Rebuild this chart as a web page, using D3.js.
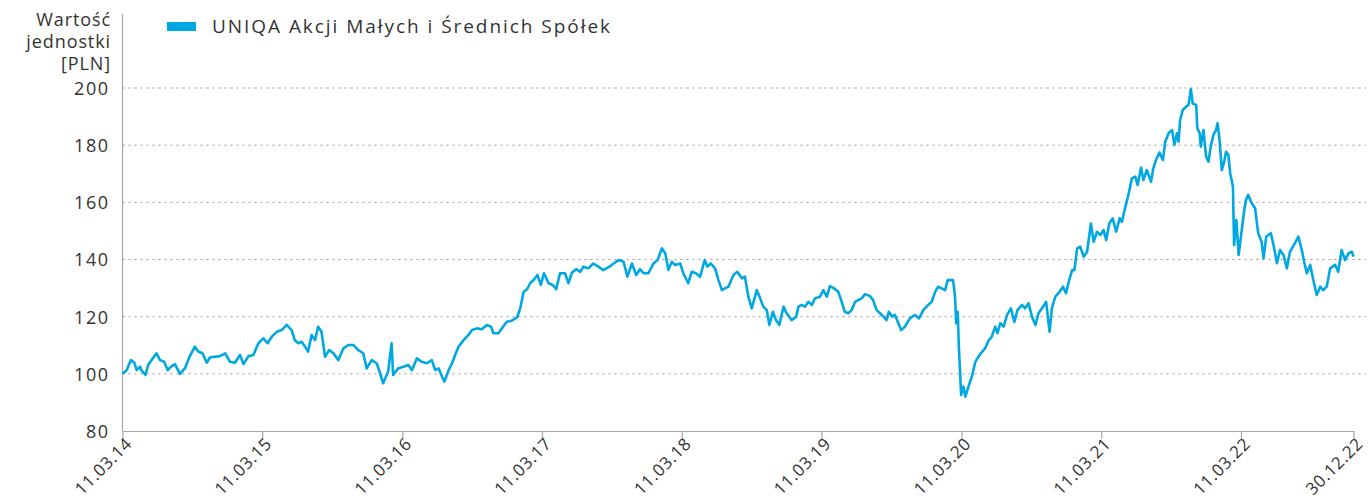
<!DOCTYPE html>
<html>
<head>
<meta charset="utf-8">
<script src="https://cdn.jsdelivr.net/npm/d3@7"></script>
<style>
  body { margin: 0; background: #fff; }
  svg { display: block; font-family: "Open Sans", sans-serif; }
  .axis text { fill: #333; }
</style>
</head>
<body>
<svg id="chart" width="1368" height="501"></svg>
<script>
const seriesName = "UNIQA Akcji Małych i Średnich Spółek";
const yTitle = ["Wartość", "jednostki", "[PLN]"];
const yTicks = [80, 100, 120, 140, 160, 180, 200];
const xTickDates = ["2014-03-11", "2015-03-11", "2016-03-11", "2017-03-11", "2018-03-11",
  "2019-03-11", "2020-03-11", "2021-03-11", "2022-03-11", "2022-12-30"];

// unit value
const dates = [
  "2014-03-11","2014-03-22","2014-04-02","2014-04-11","2014-04-17","2014-04-26","2014-04-30","2014-05-10","2014-05-17","2014-05-26",
  "2014-06-08","2014-06-17","2014-06-28","2014-07-07","2014-07-16","2014-07-26","2014-08-08","2014-08-21","2014-09-03","2014-09-16",
  "2014-09-25","2014-10-06","2014-10-17","2014-10-26","2014-11-08","2014-11-21","2014-12-04","2014-12-17","2014-12-30","2015-01-12",
  "2015-01-21","2015-02-03","2015-02-16","2015-03-01","2015-03-14","2015-03-25","2015-04-05","2015-04-18","2015-05-01","2015-05-14",
  "2015-05-27","2015-06-04","2015-06-13","2015-06-22","2015-07-01","2015-07-09","2015-07-18","2015-07-27","2015-08-04","2015-08-13",
  "2015-08-22","2015-09-02","2015-09-13","2015-09-26","2015-10-09","2015-10-22","2015-11-04","2015-11-17","2015-11-30","2015-12-09",
  "2015-12-22","2016-01-04","2016-01-13","2016-01-21","2016-02-03","2016-02-12","2016-02-16","2016-02-29","2016-03-14","2016-03-27",
  "2016-04-05","2016-04-18","2016-05-01","2016-05-14","2016-05-27","2016-06-05","2016-06-14","2016-06-23","2016-06-29","2016-07-10",
  "2016-07-19","2016-07-27","2016-08-05","2016-08-18","2016-08-31","2016-09-09","2016-09-22","2016-10-05","2016-10-18","2016-10-29",
  "2016-11-04","2016-11-17","2016-11-26","2016-12-09","2016-12-22","2017-01-05","2017-01-13","2017-01-22","2017-01-31","2017-02-08",
  "2017-02-17","2017-02-27","2017-03-08","2017-03-16","2017-03-28","2017-04-08","2017-04-17","2017-04-27","2017-05-10","2017-05-19",
  "2017-05-28","2017-06-08","2017-06-19","2017-06-27","2017-07-10","2017-07-23","2017-08-05","2017-08-18","2017-09-01","2017-09-14",
  "2017-09-27","2017-10-10","2017-10-20","2017-11-01","2017-11-12","2017-11-22","2017-12-01","2017-12-14","2017-12-27","2018-01-07",
  "2018-01-18","2018-01-27","2018-02-04","2018-02-13","2018-02-22","2018-03-07","2018-03-15","2018-03-28","2018-04-06","2018-04-17",
  "2018-04-28","2018-05-10","2018-05-17","2018-05-26","2018-06-06","2018-06-15","2018-06-24","2018-07-02","2018-07-11","2018-07-24",
  "2018-08-03","2018-08-15","2018-08-23","2018-09-01","2018-09-10","2018-09-23","2018-10-02","2018-10-10","2018-10-19","2018-10-26",
  "2018-11-04","2018-11-12","2018-11-21","2018-12-02","2018-12-10","2018-12-23","2019-01-04","2019-01-10","2019-01-19","2019-01-27",
  "2019-02-05","2019-02-14","2019-02-22","2019-03-07","2019-03-16","2019-03-25","2019-04-02","2019-04-13","2019-04-24","2019-05-03",
  "2019-05-11","2019-05-20","2019-05-29","2019-06-07","2019-06-15","2019-06-24","2019-07-03","2019-07-16","2019-07-24","2019-08-02",
  "2019-08-11","2019-08-20","2019-08-28","2019-09-03","2019-09-12","2019-09-19","2019-09-28","2019-10-05","2019-10-15","2019-10-28",
  "2019-11-10","2019-11-21","2019-12-02","2019-12-15","2019-12-24","2020-01-02","2020-01-10","2020-01-19","2020-01-28","2020-02-04",
  "2020-02-18","2020-02-23","2020-02-26","2020-03-01","2020-03-04","2020-03-10","2020-03-16","2020-03-21","2020-03-29","2020-04-07",
  "2020-04-16","2020-04-29","2020-05-12","2020-05-20","2020-05-29","2020-06-07","2020-06-13","2020-06-20","2020-06-29","2020-07-08",
  "2020-07-18","2020-07-27","2020-08-04","2020-08-16","2020-08-24","2020-09-02","2020-09-11","2020-09-20","2020-09-28","2020-10-10",
  "2020-10-18","2020-10-27","2020-11-02","2020-11-11","2020-11-22","2020-12-01","2020-12-09","2020-12-16","2020-12-25","2020-12-31",
  "2021-01-07","2021-01-15","2021-01-24","2021-02-02","2021-02-12","2021-02-19","2021-02-28","2021-03-09","2021-03-17","2021-03-24",
  "2021-04-01","2021-04-10","2021-04-19","2021-04-28","2021-05-04","2021-05-12","2021-05-21","2021-05-30","2021-06-08","2021-06-14",
  "2021-06-23","2021-06-29","2021-07-08","2021-07-19","2021-07-25","2021-08-01","2021-08-10","2021-08-19","2021-08-25","2021-09-03",
  "2021-09-12","2021-09-18","2021-09-25","2021-09-29","2021-10-03","2021-10-10","2021-10-19","2021-10-25","2021-10-31","2021-11-05",
  "2021-11-14","2021-11-17","2021-11-23","2021-11-26","2021-12-03","2021-12-10","2021-12-16","2021-12-22","2021-12-29","2022-01-05",
  "2022-01-09","2022-01-14","2022-01-20","2022-01-26","2022-01-31","2022-02-06","2022-02-11","2022-02-18","2022-02-21","2022-02-27",
  "2022-03-05","2022-03-13","2022-03-19","2022-03-24","2022-03-30","2022-04-08","2022-04-17","2022-04-25","2022-05-04","2022-05-09",
  "2022-05-16","2022-05-28","2022-06-04","2022-06-13","2022-06-21","2022-06-30","2022-07-09","2022-07-17","2022-07-30","2022-08-08",
  "2022-08-17","2022-08-23","2022-08-30","2022-09-08","2022-09-16","2022-09-25","2022-10-04","2022-10-12","2022-10-21","2022-10-30",
  "2022-11-12","2022-11-20","2022-11-29","2022-12-08","2022-12-17","2022-12-26","2022-12-30"
];
const values = [
  100,101.3,104.8,103.9,101.3,102.5,101.1,99.6,103.1,104.8,
  107.2,104.8,104.2,101.3,102.5,103.4,100,101.9,106.2,109.5,
  107.8,107.2,103.9,105.8,106,106.2,107.2,104.2,103.9,106.6,
  103.4,106.2,106.6,110.7,112.4,110.7,113,114.7,115.3,117.1,
  115.3,111.8,110.7,111.2,109.5,107.8,113.6,111.8,116.5,114.7,
  106,108.3,107.2,104.8,108.9,110.1,110.1,108.3,107.2,101.9,
  104.8,103.7,100.2,96.7,100.8,110.7,99.6,101.9,102.5,103.1,
  101.3,105.4,104.2,103.7,104.8,101.3,101.9,99,97.3,101.3,
  103.7,106.6,109.5,111.8,113.6,115.3,115.9,115.6,117.1,116.5,
  114.2,114.2,115.9,118.2,118.6,119.8,122.9,128.7,129.6,131.7,
  132.8,134.6,131.1,135.2,131.7,131.1,129.6,135.2,135.2,131.7,
  135.4,136.6,135.7,137.5,136.9,138.6,137.5,136.3,137.3,138.6,
  139.8,139.2,134,138.6,134.6,136.6,135.2,135.2,138.6,139.8,
  143.9,142.2,136.3,139.2,138.1,138.6,135.2,131.7,135.7,135.2,
  134,139.8,137.5,138.6,136.9,132.8,129.3,129.9,130.5,134.6,
  135.7,133.4,134,127,122.9,129.3,126.4,123.5,122.3,117.1,
  121.7,118.8,117.1,123.5,121.2,118.8,120,123.5,124.1,123.5,
  125.2,124.1,126.4,127,129.3,127,130.7,129.9,128.7,125.2,
  121.7,121.2,122.3,125.2,125.8,126.4,127.9,127.2,125.8,122.3,
  121.2,120,118.8,121.7,120,120.6,117.7,115.3,116.5,119.4,
  120.6,119.4,122.3,124.1,125.2,128.7,130.5,129.9,129.3,132.8,
  132.8,127,117.7,121.7,109.5,92.6,95.5,92,95.5,99,
  104.2,107,109,111.5,113,116.5,114.2,117.7,116.5,120.6,
  122.9,118.2,122.3,124.1,122.9,124.7,120,117.1,121.2,123.5,
  125.2,114.7,122.9,127,128.7,130.5,128.2,132.2,136.3,136.3,
  143.9,144.5,141,142.7,152.6,146.2,149.7,148.6,150.3,146.8,
  152.6,154.4,149.7,154.4,153.2,157.9,162.6,168.4,169,166.1,
  172.2,167.8,171.3,167.2,171.9,174.8,177.4,174.8,181.2,184.2,
  185.3,180.1,184.2,181.2,188.8,192.3,193.5,194.1,199.6,194.6,
  194.1,185.9,184.2,179.5,185.3,176,174.2,179.5,183.6,185.3,
  187.7,181.8,171.3,174.2,177.7,176.6,170.1,165.5,145.1,153.8,
  141.6,150.3,156.7,160.8,162.6,159.7,157.9,149.2,146.2,140.4,
  148,149.2,145.1,138.7,143.3,141.6,136.9,142.7,145.7,148,
  143.3,139.2,135.2,138.1,132.8,127.6,130.5,129.3,130.5,136.9,
  138.1,135.7,143.3,139.8,142.2,142.7,141
];

const parse = d3.timeParse("%Y-%m-%d");
const data = dates.map((d, i) => ({ date: parse(d), value: values[i] }));

const svg = d3.select("#chart");
const m = { left: 122.5, right: 1353.5, top: 88, bottom: 431 };
const lineColor = "#00a8e1";

const x = d3.scaleTime()
  .domain([parse(xTickDates[0]), parse(xTickDates[xTickDates.length - 1])])
  .range([m.left, m.right]);

const y = d3.scaleLinear().domain([80, 200]).range([m.bottom, m.top]);

// dotted grid
svg.append("g")
  .selectAll("line")
  .data(yTicks.filter(v => v > 80))
  .join("line")
  .attr("x1", m.left)
  .attr("x2", 1366)
  .attr("y1", d => y(d))
  .attr("y2", d => y(d))
  .attr("stroke", "#9a9a9a")
  .attr("stroke-width", 1)
  .attr("stroke-dasharray", "2,4");

// y axis labels
const yAxis = svg.append("g")
  .attr("class", "axis")
  .attr("transform", `translate(${m.left},0)`)
  .call(d3.axisLeft(y).tickValues(yTicks).tickSize(0).tickPadding(13));
yAxis.select(".domain").remove();
yAxis.selectAll("text")
  .attr("font-size", 18)
  .attr("letter-spacing", 1.5)
  .attr("font-family", "Open Sans, sans-serif")
  .attr("dy", "0.36em");

svg.append("line")
  .attr("x1", m.left).attr("x2", m.left)
  .attr("y1", 14).attr("y2", m.bottom)
  .attr("stroke", "#a6a6a6").attr("stroke-width", 1.2);

// x axis
const xAxis = svg.append("g")
  .attr("class", "axis")
  .attr("transform", `translate(0,${m.bottom})`)
  .call(d3.axisBottom(x)
    .tickValues(xTickDates.map(parse))
    .tickFormat(d3.timeFormat("%d.%m.%y"))
    .tickSize(8)
    .tickSizeOuter(0));
xAxis.select(".domain").attr("stroke", "#a6a6a6").attr("stroke-width", 1.2);
xAxis.selectAll(".tick line").attr("stroke", "#a6a6a6").attr("stroke-width", 1.2);
xAxis.selectAll("text")
  .attr("font-size", 17)
  .attr("letter-spacing", 0.6)
  .attr("font-family", "Open Sans, sans-serif")
  .attr("text-anchor", "end")
  .attr("dy", null)
  .attr("y", 0)
  .attr("transform", "translate(10,14) rotate(-45)");

// y title
svg.append("text")
  .attr("text-anchor", "end")
  .attr("font-size", 18)
  .attr("letter-spacing", 0.9)
  .attr("fill", "#333")
  .selectAll("tspan")
  .data(yTitle)
  .join("tspan")
  .attr("x", 111)
  .attr("y", (d, i) => 26 + i * 22)
  .text(d => d);

// legend
svg.append("rect")
  .attr("x", 167).attr("y", 22)
  .attr("width", 29).attr("height", 9)
  .attr("fill", lineColor);
svg.append("text")
  .attr("x", 212).attr("y", 32.5)
  .attr("font-size", 19)
  .attr("letter-spacing", 1.95)
  .attr("fill", "#333")
  .text(seriesName);

// the series
svg.append("path")
  .datum(data)
  .attr("fill", "none")
  .attr("stroke", lineColor)
  .attr("stroke-width", 2.6)
  .attr("stroke-linejoin", "round")
  .attr("d", d3.line().x(d => x(d.date)).y(d => y(d.value)));
</script>
</body>
</html>
